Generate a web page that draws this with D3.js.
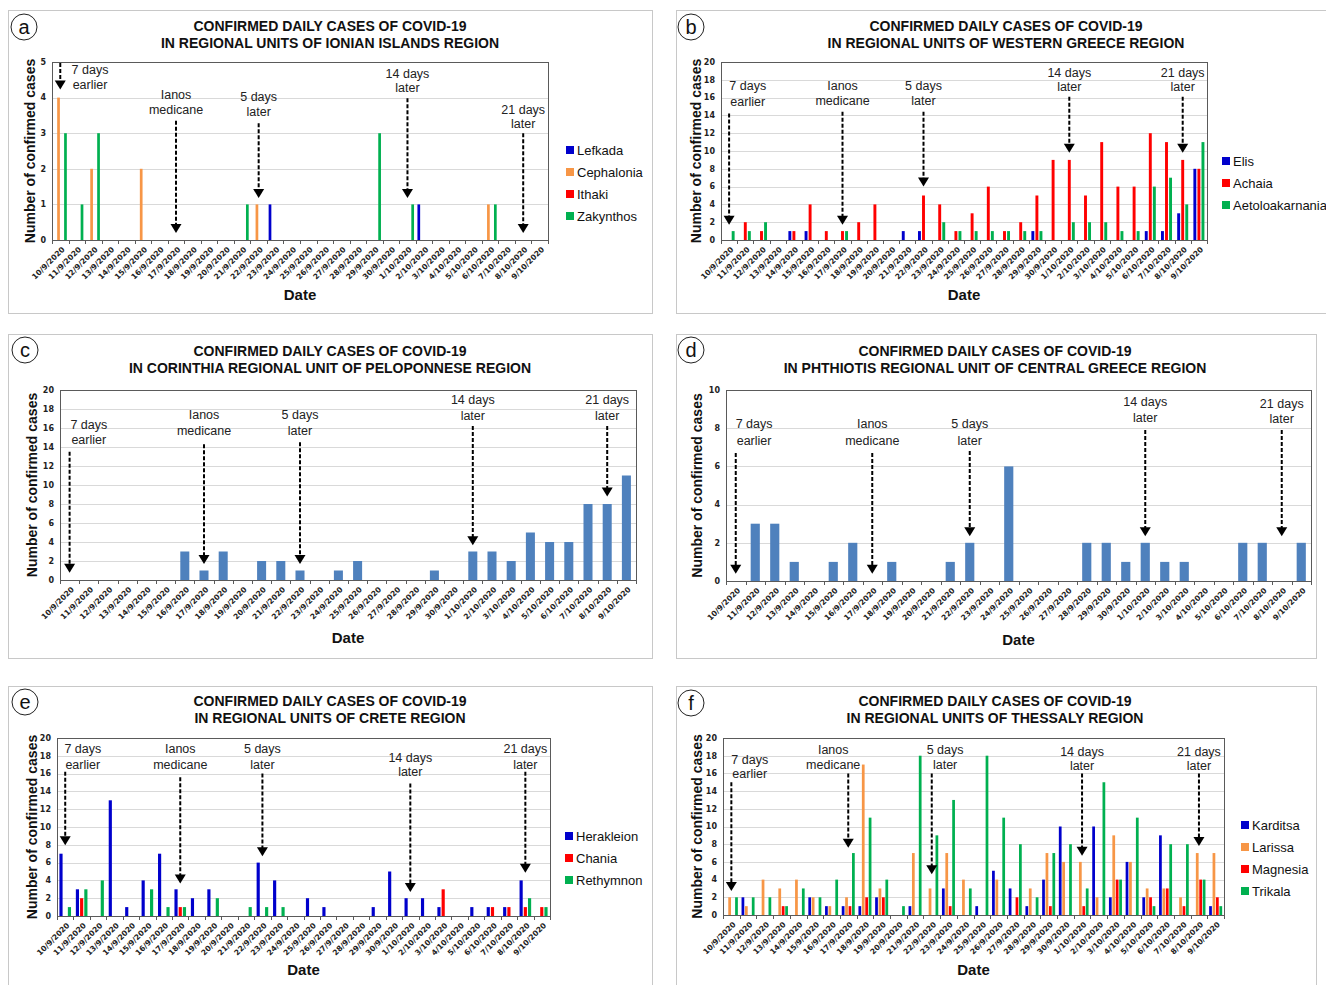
<!DOCTYPE html>
<html><head><meta charset="utf-8">
<script src="https://cdn.jsdelivr.net/npm/d3@7"></script>
<style>
html,body{margin:0;padding:0;background:#fff;}
svg{display:block;font-family:"Liberation Sans",Arial,sans-serif;}
</style></head>
<body><svg id="chart" width="1326" height="985"></svg>
<script>
// ---------- DATA ----------
const dates = ["10/9/2020","11/9/2020","12/9/2020","13/9/2020","14/9/2020","15/9/2020","16/9/2020","17/9/2020","18/9/2020","19/9/2020",
  "20/9/2020","21/9/2020","22/9/2020","23/9/2020","24/9/2020","25/9/2020","26/9/2020","27/9/2020","28/9/2020","29/9/2020",
  "30/9/2020","1/10/2020","2/10/2020","3/10/2020","4/10/2020","5/10/2020","6/10/2020","7/10/2020","8/10/2020","9/10/2020"];

// (a) Ionian Islands
const lefkada    = [0,0,0,0,0,0,0,0,0,0, 0,0,0,1,0,0,0,0,0,0, 0,0,1,0,0,0,0,0,0,0];
const cephalonia = [4,0,2,0,0,2,0,0,0,0, 0,0,1,0,0,0,0,0,0,0, 0,0,0,0,0,0,1,0,0,0];
const ithaki     = [0,0,0,0,0,0,0,0,0,0, 0,0,0,0,0,0,0,0,0,0, 0,0,0,0,0,0,0,0,0,0];
const zakynthos  = [3,1,3,0,0,0,0,0,0,0, 0,1,0,0,0,0,0,0,0,3, 0,1,0,0,0,0,1,0,0,0];
// (b) Western Greece
const elis            = [0,0,0,0,1,1,0,0,0,0, 0,1,1,0,0,0,0,0,0,1, 0,0,0,0,0,0,1,1,3,8];
const achaia          = [0,2,1,0,1,4,1,1,2,4, 0,0,5,4,1,3,6,1,2,5, 9,9,5,11,6,6,12,11,9,8];
const aetoloakarnania = [1,1,2,0,0,0,0,1,0,0, 0,0,0,2,1,1,1,1,1,1, 0,2,2,2,1,1,6,7,4,11];
// (c) Corinthia
const corinthia = [0,0,0,0,0,0,3,1,3,0, 2,2,1,0,1,2,0,0,0,1, 0,3,3,2,5,4,4,8,8,11];
// (d) Phthiotis
const phthiotis = [0,3,3,1,0,1,2,0,1,0, 0,1,2,0,6,0,0,0,2,2, 1,2,1,1,0,0,2,2,0,2];
// (e) Crete
const herakleion = [7,3,0,13,1,4,7,3,2,3, 0,0,6,4,0,2,1,0,0,1, 5,2,2,1,0,1,1,1,4,0];
const chania     = [0,2,0,0,0,0,0,1,0,0, 0,0,0,0,0,0,0,0,0,0, 0,0,0,3,0,0,1,1,1,1];
const rethymnon  = [1,3,4,0,0,3,1,1,0,2, 0,1,1,1,0,0,0,0,0,0, 0,0,0,0,0,0,0,0,2,1];
// (f) Thessaly
const karditsa = [0,2,0,0,0,2,1,1,1,2, 0,1,0,3,0,1,5,3,1,4, 10,0,10,2,6,2,9,0,0,1];
const larissa  = [2,1,4,3,4,2,1,2,17,3, 0,7,3,7,4,0,4,0,3,7, 6,6,2,9,6,3,3,2,7,7];
const magnesia = [0,0,0,1,0,0,0,1,2,2, 0,0,0,1,0,0,0,2,0,1, 0,1,0,4,0,2,3,1,4,2];
const trikala  = [2,2,2,1,3,2,4,7,11,4, 1,18,9,13,3,18,11,8,2,7, 8,3,15,4,11,1,8,8,4,1];

const annoDays   = ["10/9/2020","17/9/2020","22/9/2020","1/10/2020","8/10/2020"];
const annoLabels = [["7 days","earlier"],["Ianos","medicane"],["5 days","later"],["14 days","later"],["21 days","later"]];

const yTicks5  = [0,1,2,3,4,5];
const yTicks10 = [0,2,4,6,8,10];
const yTicks20 = [0,2,4,6,8,10,12,14,16,18,20];

// ---------- STYLE ----------
const C_BLUE="#0000CC", C_ORANGE="#F79646", C_RED="#FF0000", C_GREEN="#00B050", C_SINGLE="#4F81BD";
const TICK_FONT = "'DejaVu Sans',Verdana,sans-serif";

const panels = [
 { letter:"a", box:[8,10,644,303], circle:[24,27], titleX:330, titleY:31,
   title:["CONFIRMED DAILY CASES OF COVID-19","IN REGIONAL UNITS OF IONIAN ISLANDS REGION"],
   plot:[52,62,548,240], yMax:5, yTicks:yTicks5, yTitleX:35, dateY:300,
   series:[["Lefkada",lefkada,C_BLUE],["Cephalonia",cephalonia,C_ORANGE],["Ithaki",ithaki,C_RED],["Zakynthos",zakynthos,C_GREEN]],
   group:0.84, barPad:0.22, legend:[566,150,22],
   dx:[1.8,0,0,0,0], t1:[4.79,4.07,4.02,4.67,3.65], t2:[4.37,3.65,3.6,4.27,3.26], top:[4.97,3.35,3.28,3.98,3.0], tip:[4.23,0.2,1.18,1.18,0.2] },
 { letter:"b", box:[676,10,700,303], circle:[691,27], titleX:1006, titleY:31,
   title:["CONFIRMED DAILY CASES OF COVID-19","IN REGIONAL UNITS OF WESTERN GREECE REGION"],
   plot:[721,62,1207,240], yMax:20, yTicks:yTicks20, yTitleX:701, dateY:300,
   series:[["Elis",elis,C_BLUE],["Achaia",achaia,C_RED],["Aetoloakarnania",aetoloakarnania,C_GREEN]],
   group:0.75, barPad:0.28, legend:[1222,161,22],
   dx:[1.15,0,0,0,0], t1:[17.3,17.4,17.4,18.8,18.8], t2:[15.5,15.7,15.7,17.2,17.2], top:[14.2,14.4,14.4,16.1,16.1], tip:[1.7,1.7,6.0,9.8,9.8] },
 { letter:"c", box:[8,334,644,324], circle:[25,350], titleX:330, titleY:356,
   title:["CONFIRMED DAILY CASES OF COVID-19","IN CORINTHIA REGIONAL UNIT OF PELOPONNESE REGION"],
   plot:[60,390,636,580], yMax:20, yTicks:yTicks20, yTitleX:37, dateY:643,
   series:[["Corinthia",corinthia,C_SINGLE]], single:true, barPad:0.53, legend:null,
   dx:[1.0,0,0,0,0], t1:[16.4,17.4,17.4,18.95,18.95], t2:[14.8,15.7,15.7,17.3,17.3], top:[13.5,14.3,14.5,16.2,16.2], tip:[0.77,1.68,1.68,3.67,8.8] },
 { letter:"d", box:[676,334,640,324], circle:[691,350], titleX:995, titleY:356,
   title:["CONFIRMED DAILY CASES OF COVID-19","IN PHTHIOTIS REGIONAL UNIT OF CENTRAL GREECE REGION"],
   plot:[726,390,1311,581], yMax:10, yTicks:yTicks10, yTitleX:702, dateY:645,
   series:[["Phthiotis",phthiotis,C_SINGLE]], single:true, barPad:0.53, legend:null,
   dx:[0.94,0,0,0,0], t1:[8.23,8.23,8.23,9.4,9.3], t2:[7.37,7.37,7.37,8.54,8.5], top:[6.7,6.7,6.8,7.9,7.9], tip:[0.38,0.38,2.34,2.34,2.34] },
 { letter:"e", box:[8,686,644,310], circle:[25,702], titleX:330, titleY:706,
   title:["CONFIRMED DAILY CASES OF COVID-19","IN REGIONAL UNITS OF CRETE REGION"],
   plot:[57,738,550,916], yMax:20, yTicks:yTicks20, yTitleX:37, dateY:975,
   series:[["Herakleion",herakleion,C_BLUE],["Chania",chania,C_RED],["Rethymnon",rethymnon,C_GREEN]],
   group:0.77, barPad:0.25, legend:[565,836,22],
   dx:[1.07,0,0,0,0], t1:[18.8,18.8,18.8,17.8,18.8], t2:[17.0,17.0,17.0,16.2,17.0], top:[16.2,15.6,16,14.9,16.2], tip:[7.95,3.66,6.7,2.7,4.85] },
 { letter:"f", box:[676,686,640,310], circle:[691,703], titleX:995, titleY:706,
   title:["CONFIRMED DAILY CASES OF COVID-19","IN REGIONAL UNITS OF THESSALY REGION"],
   plot:[723,738,1224,915], yMax:20, yTicks:yTicks20, yTitleX:702, dateY:975,
   series:[["Karditsa",karditsa,C_BLUE],["Larissa",larissa,C_ORANGE],["Magnesia",magnesia,C_RED],["Trikala",trikala,C_GREEN]],
   group:0.82, barPad:0.2, legend:[1241,825,22],
   dx:[1.1,-0.9,0.8,0,0], t1:[17.6,18.65,18.65,18.5,18.5], t2:[16,17,17,16.9,16.9], top:[15,16,16,16,16], tip:[2.7,7.6,4.6,6.7,7.8] }
];

const svg = d3.select("#chart");

panels.forEach(p => {
  const g = svg.append("g");
  // panel frame
  g.append("rect").attr("x",p.box[0]+0.5).attr("y",p.box[1]+0.5).attr("width",p.box[2]).attr("height",p.box[3])
    .attr("fill","none").attr("stroke","#c8c8c8").attr("stroke-width",1);
  // letter circle
  g.append("circle").attr("cx",p.circle[0]).attr("cy",p.circle[1]).attr("r",13)
    .attr("fill","#fff").attr("stroke","#222").attr("stroke-width",1);
  g.append("text").attr("x",p.circle[0]).attr("y",p.circle[1]).attr("dy","0.35em")
    .attr("text-anchor","middle").attr("font-size",20).attr("fill","#111").text(p.letter);
  // title
  p.title.forEach((t,i) => g.append("text").attr("x",p.titleX).attr("y",p.titleY+i*17)
    .attr("text-anchor","middle").attr("font-size",14).attr("font-weight","bold").attr("fill","#111").text(t));

  const [x0,y0,x1,y1] = p.plot;
  const x = d3.scaleBand().domain(dates).range([x0,x1]).padding(0);
  const y = d3.scaleLinear().domain([0,p.yMax]).range([y1,y0]);
  const step = x.step();

  // gridlines
  g.append("g").selectAll("line").data(p.yTicks.filter(v=>v>0 && v<p.yMax)).join("line")
    .attr("x1",x0).attr("x2",x1).attr("y1",d=>Math.round(y(d))+0.5).attr("y2",d=>Math.round(y(d))+0.5)
    .attr("stroke","#d9d9d9").attr("stroke-width",1);

  // bars
  if (p.single) {
    const s = p.series[0];
    const bw = step*(1-p.barPad);
    g.append("g").selectAll("rect").data(dates.map((d,i)=>({d,v:s[1][i]})).filter(o=>o.v>0)).join("rect")
      .attr("x",o=>x(o.d)+(step-bw)/2).attr("width",bw)
      .attr("y",o=>y(o.v)).attr("height",o=>y(0)-y(o.v)).attr("fill",s[2]);
  } else {
    const names = p.series.map(s=>s[0]);
    const off = step*(1-p.group)/2;
    const xs = d3.scaleBand().domain(names).range([off, step-off]).paddingInner(p.barPad).paddingOuter(p.barPad/2);
    p.series.forEach(s => {
      g.append("g").selectAll("rect").data(dates.map((d,i)=>({d,v:s[1][i]})).filter(o=>o.v>0)).join("rect")
        .attr("x",o=>x(o.d)+xs(s[0])).attr("width",xs.bandwidth())
        .attr("y",o=>y(o.v)).attr("height",o=>y(0)-y(o.v)).attr("fill",s[2]);
    });
  }

  // plot frame
  g.append("rect").attr("x",x0+0.5).attr("y",y0+0.5).attr("width",x1-x0).attr("height",y1-y0)
    .attr("fill","none").attr("stroke","#5a5a5a").attr("stroke-width",1);

  // x ticks at category boundaries
  const bounds = dates.map(d=>x(d)).concat([x1]);
  g.append("g").selectAll("line").data(bounds).join("line")
    .attr("x1",d=>Math.round(d)+0.5).attr("x2",d=>Math.round(d)+0.5).attr("y1",y1).attr("y2",y1+4)
    .attr("stroke","#5a5a5a");
  // x tick labels
  g.append("g").selectAll("text").data(dates).join("text")
    .attr("transform",d=>`translate(${x(d)+step/2+3},${y1+8}) rotate(-45)`)
    .attr("text-anchor","end").attr("dy","0.35em").attr("font-family",TICK_FONT)
    .attr("font-size",7.6).attr("font-weight","bold").attr("fill","#222")
    .text(d=>d);
  // y tick labels
  g.append("g").selectAll("text").data(p.yTicks).join("text")
    .attr("x",x0-6).attr("y",d=>y(d)).attr("dy","0.35em").attr("text-anchor","end").attr("font-family",TICK_FONT)
    .attr("font-size",8).attr("font-weight","bold").attr("fill","#222").text(d=>d);
  // y title
  g.append("text").attr("transform",`translate(${p.yTitleX},${(y0+y1)/2}) rotate(-90)`)
    .attr("text-anchor","middle").attr("font-size",14).attr("font-weight","bold").attr("fill","#111")
    .text("Number of confirmed cases");
  // x title
  g.append("text").attr("x",(x0+x1)/2).attr("y",p.dateY).attr("text-anchor","middle")
    .attr("font-size",15).attr("font-weight","bold").attr("fill","#111").text("Date");

  // annotations
  annoDays.forEach((d,k) => {
    const cx = x(d)+step/2;
    const tx = cx + p.dx[k]*step;
    g.append("text").attr("x",tx).attr("y",y(p.t1[k])).attr("dy","0.35em").attr("text-anchor","middle")
      .attr("font-size",12.5).attr("fill","#222").text(annoLabels[k][0]);
    g.append("text").attr("x",tx).attr("y",y(p.t2[k])).attr("dy","0.35em").attr("text-anchor","middle")
      .attr("font-size",12.5).attr("fill","#222").text(annoLabels[k][1]);
    const tipY = y(p.tip[k]), headH = 9, headW = 11;
    g.append("line").attr("x1",cx).attr("x2",cx).attr("y1",y(p.top[k])).attr("y2",tipY-headH+1)
      .attr("stroke","#000").attr("stroke-width",2).attr("stroke-dasharray","4,2");
    g.append("path").attr("d",`M${cx-headW/2},${tipY-headH}L${cx+headW/2},${tipY-headH}L${cx},${tipY}Z`).attr("fill","#000");
  });

  // legend
  if (p.legend) {
    const [lx,ly,lstep] = p.legend;
    p.series.forEach((s,i) => {
      g.append("rect").attr("x",lx).attr("y",ly+i*lstep-4).attr("width",8).attr("height",8).attr("fill",s[2]);
      g.append("text").attr("x",lx+11).attr("y",ly+i*lstep).attr("dy","0.35em").attr("font-size",13)
        .attr("fill","#111").text(s[0]);
    });
  }
});
</script></body></html>
